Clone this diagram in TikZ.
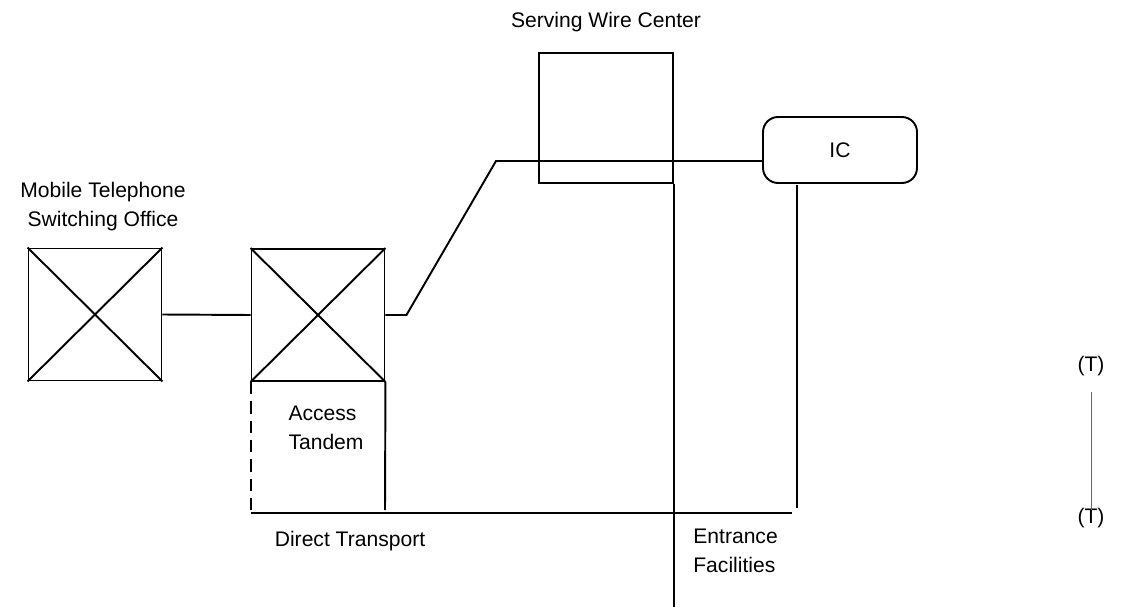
\documentclass[tikz,border=0pt]{standalone}
\usepackage{fontspec}
\setmainfont{Liberation Sans}
\usetikzlibrary{positioning}
\tikzset{
  wire/.style={draw=black, line width=1.1pt},
  switchbox/.style={draw=black, line width=1.1pt, minimum width=2.66cm, minimum height=2.64cm, inner sep=0pt},
  office/.style={draw=black, line width=1.1pt, minimum width=2.68cm, minimum height=2.6cm, inner sep=0pt},
  carrier/.style={draw=black, line width=1.1pt, rounded corners=3mm, minimum width=3.08cm, minimum height=1.32cm, inner sep=0pt},
  label/.style={font=\fontsize{12}{16.5}\selectfont, inner sep=0pt},
  legend/.style={draw=black!60, line width=.5pt}
}

\begin{document}
\begin{tikzpicture}[x=0.02cm,y=-0.02cm]
\useasboundingbox (0,0) rectangle (1121,608);

% Switches
\node[switchbox] (mtso) at (95,314.5) {};
\node[switchbox] (tandem) at (318,315) {};
\foreach \sw in {mtso,tandem}{
  \draw[wire] (\sw.north west) -- (\sw.south east);
  \draw[wire] (\sw.south west) -- (\sw.north east);
}
\node[label, align=center] (mtsolbl) at (103,207) {Mobile Telephone\\Switching Office};
\node[label, align=left] (tandemlbl) at (326,428) {Access\\Tandem};

% Serving wire center and IC
\node[office] (swc) at (606,118) {};
\node[label] (swclbl) at (606,22) {Serving Wire Center};
\node[carrier] (ic) at (840,150) {};
\node[label] (iclbl) at (ic) {IC};

% Trunks
\coordinate (bend) at (496,161);
\draw[wire] (mtso.east) -- (tandem.east -| tandem.west);
\draw[wire] (tandem.east) -- ++(21,0) -- (bend) -- (bend -| ic.west);

% Transport
\coordinate (dt) at (251,513);
\coordinate (ictap) at (797,185);
\coordinate (bottom) at (672,607);
\draw[wire] (swc.south east) -- (swc.south east |- bottom);
\draw[wire] (ictap) -- (797,508);
\draw[wire] (tandem.south west |- dt) -- (792,513);
\draw[wire, dash pattern=on 7pt off 4pt] (tandem.south west) -- (tandem.south west |- dt);
\draw[wire] (tandem.south east) -- (385,510);
\node[label] (dtlbl) at (350,541) {Direct Transport};
\node[label, align=left, anchor=west] (eflbl) at (693,551) {Entrance\\Facilities};

% Legend
\node[label] (ttop) at (1091,366) {(T)};
\node[label] (tbot) at (1091,518) {(T)};
\draw[legend] (1091,392) -- (1091,510);

\end{tikzpicture}
\end{document}
